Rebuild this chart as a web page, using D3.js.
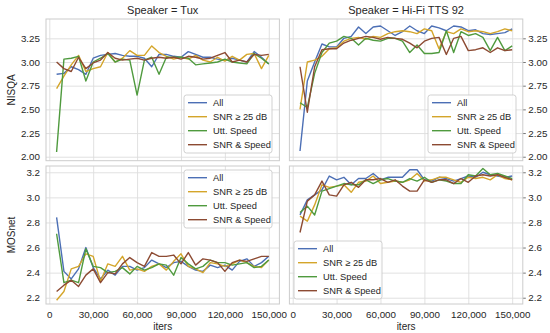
<!DOCTYPE html>
<html>
<head>
<meta charset="utf-8">
<script src="https://cdn.jsdelivr.net/npm/d3@7"></script>
<style>
	body { margin: 0; background: white; }
	text { font-family: "Liberation Sans", Arial, sans-serif; fill: #262626; }
</style>
</head>
<body>
<script>
//training iterations (x values shared by every panel)
let iters = [5000, 10000, 15000, 20000, 25000, 30000, 35000, 40000, 45000, 50000,
	55000, 60000, 65000, 70000, 75000, 80000, 85000, 90000, 95000, 100000,
	105000, 110000, 115000, 120000, 125000, 130000, 135000, 140000, 145000, 150000];

let seriesNames = ["All", "SNR \u2265 25 dB", "Utt. Speed", "SNR & Speed"];
let speakers = ["Tux", "Hi-Fi TTS 92"];
let metrics = ["NISQA", "MOSnet"];

let xTicks = [0, 30000, 60000, 90000, 120000, 150000];
let nisqaTicks = [2.00, 2.25, 2.50, 2.75, 3.00, 3.25];
let mosnetTicks = [2.2, 2.4, 2.6, 2.8, 3.0, 3.2];

//values per series, in the order of seriesNames
let tuxNisqa = [
	[2.87, 2.88, 2.95, 2.92, 2.87, 3.04, 3.07, 3.08, 3.09, 3.07, 3.06, 3.06, 3.04, 2.95, 3.08, 3.08, 3.06, 3.05, 3.11, 3.08, 3.05, 3.05, 3.03, 3.02, 3.04, 3.02, 3.00, 3.11, 3.05, 2.98],
	[2.72, 2.85, 2.97, 3.07, 2.90, 2.93, 2.95, 3.10, 3.00, 3.04, 3.12, 3.07, 3.07, 3.17, 3.10, 3.06, 3.03, 3.05, 3.03, 3.07, 3.02, 3.00, 3.05, 3.01, 3.06, 3.02, 3.08, 3.09, 2.93, 3.07],
	[2.05, 3.03, 3.04, 3.06, 2.80, 3.00, 3.04, 3.09, 3.00, 3.03, 3.02, 2.65, 3.02, 3.05, 2.87, 3.05, 3.05, 3.05, 3.04, 2.97, 2.98, 2.99, 3.00, 3.03, 3.00, 2.99, 2.98, 3.09, 3.04, 2.98],
	[3.00, 2.93, 2.90, 3.05, 2.93, 2.99, 3.02, 3.10, 3.04, 3.02, 3.03, 3.04, 3.02, 3.04, 3.05, 3.04, 3.05, 3.03, 3.06, 3.05, 3.03, 3.04, 3.07, 3.10, 3.00, 3.02, 3.00, 3.08, 3.07, 3.08]
];
let hifiNisqa = [
	[2.06, 2.80, 3.00, 3.19, 3.16, 3.16, 3.25, 3.27, 3.37, 3.30, 3.37, 3.38, 3.33, 3.28, 3.32, 3.38, 3.33, 3.30, 3.38, 3.36, 3.33, 3.38, 3.37, 3.33, 3.34, 3.30, 3.29, 3.30, 3.31, 3.35],
	[2.50, 3.00, 3.02, 3.06, 3.14, 3.15, 3.22, 3.25, 3.26, 3.24, 3.27, 3.26, 3.30, 3.32, 3.33, 3.32, 3.30, 3.35, 3.33, 3.14, 3.32, 3.30, 3.35, 3.32, 3.33, 3.32, 3.30, 3.32, 3.35, 3.33],
	[2.57, 2.52, 2.88, 3.10, 3.20, 3.22, 3.27, 3.25, 3.18, 3.25, 3.23, 3.22, 3.25, 3.25, 3.22, 3.10, 3.18, 3.09, 3.09, 3.10, 3.33, 3.10, 3.32, 3.28, 3.30, 3.26, 3.12, 3.26, 3.12, 3.17],
	[2.95, 2.47, 2.95, 3.13, 3.14, 3.14, 3.20, 3.23, 3.25, 3.27, 3.26, 3.24, 3.26, 3.25, 3.24, 3.20, 3.15, 3.22, 3.25, 3.26, 3.08, 3.25, 3.27, 3.12, 3.13, 3.15, 3.10, 3.15, 3.12, 3.13]
];
let tuxMosnet = [
	[2.84, 2.41, 2.35, 2.43, 2.60, 2.44, 2.35, 2.42, 2.38, 2.45, 2.45, 2.42, 2.44, 2.50, 2.47, 2.44, 2.48, 2.49, 2.45, 2.42, 2.41, 2.46, 2.44, 2.46, 2.42, 2.49, 2.51, 2.45, 2.48, 2.53],
	[2.18, 2.25, 2.43, 2.45, 2.55, 2.53, 2.33, 2.47, 2.45, 2.53, 2.42, 2.43, 2.41, 2.45, 2.47, 2.42, 2.49, 2.55, 2.45, 2.43, 2.40, 2.48, 2.47, 2.45, 2.47, 2.50, 2.48, 2.45, 2.44, 2.50],
	[2.71, 2.32, 2.34, 2.32, 2.59, 2.45, 2.44, 2.40, 2.41, 2.44, 2.39, 2.45, 2.42, 2.44, 2.47, 2.46, 2.38, 2.52, 2.47, 2.43, 2.45, 2.50, 2.48, 2.48, 2.46, 2.47, 2.48, 2.44, 2.45, 2.50],
	[2.25, 2.30, 2.34, 2.29, 2.38, 2.43, 2.32, 2.40, 2.39, 2.47, 2.52, 2.48, 2.45, 2.56, 2.53, 2.53, 2.54, 2.47, 2.56, 2.46, 2.51, 2.50, 2.48, 2.41, 2.48, 2.50, 2.49, 2.51, 2.53, 2.53]
];
let hifiMosnet = [
	[2.86, 2.98, 3.02, 3.06, 3.17, 3.14, 3.16, 3.10, 3.15, 3.15, 3.19, 3.14, 3.16, 3.16, 3.16, 3.22, 3.22, 3.14, 3.13, 3.16, 3.15, 3.13, 3.15, 3.17, 3.16, 3.20, 3.18, 3.17, 3.16, 3.17],
	[2.85, 2.81, 2.94, 3.10, 3.08, 3.09, 3.10, 3.04, 3.12, 3.13, 3.17, 3.11, 3.12, 3.13, 3.12, 3.14, 3.19, 3.13, 3.14, 3.16, 3.16, 3.14, 3.12, 3.16, 3.15, 3.16, 3.14, 3.18, 3.15, 3.14],
	[2.88, 2.93, 2.86, 3.05, 3.07, 3.09, 3.11, 3.10, 3.10, 3.14, 3.11, 3.14, 3.15, 3.13, 3.12, 3.15, 3.13, 3.16, 3.12, 3.14, 3.13, 3.11, 3.11, 3.18, 3.17, 3.23, 3.18, 3.19, 3.17, 3.15],
	[2.72, 2.97, 3.02, 3.13, 3.02, 3.01, 3.10, 3.12, 3.08, 3.14, 3.14, 3.15, 3.12, 3.14, 3.09, 3.05, 3.05, 3.14, 3.12, 3.14, 3.14, 3.11, 3.15, 3.12, 3.17, 3.18, 3.17, 3.18, 3.16, 3.14]
];

let colors = ["#4c6fb5", "#d4a52a", "#4f9a3e", "#8c4a32"];
let gridColor = "#dedede";
let edgeColor = "#cccccc";

let svg = d3.select("body").append("svg")
	.attr("width", 550)
	.attr("height", 333);

//panel boxes (left/right columns, top/bottom rows)
let cols = [{x0: 46, x1: 279.4}, {x0: 289.4, x1: 522.8}];
let rows = [
	{y0: 19, y1: 160.7, domain: [1.958, 3.454], ticks: nisqaTicks, fmt: d3.format(".2f")},
	{y0: 166, y1: 304, domain: [2.15, 3.25], ticks: mosnetTicks, fmt: d3.format(".1f")}
];

let panels = [
	{r: 0, c: 0, data: tuxNisqa, legend: {x: 184, y: 95}},
	{r: 0, c: 1, data: hifiNisqa, legend: {x: 428, y: 95}},
	{r: 1, c: 0, data: tuxMosnet, legend: {x: 184, y: 170}},
	{r: 1, c: 1, data: hifiMosnet, legend: {x: 294, y: 241}}
];

panels.forEach(p => {
	let col = cols[p.c], row = rows[p.r];
	let w = col.x1 - col.x0, h = row.y1 - row.y0;

	let x = d3.scaleLinear().domain([-2250, 157250]).range([0, w]);
	let y = d3.scaleLinear().domain(row.domain).range([h, 0]);

	let g = svg.append("g").attr("transform", `translate(${col.x0}, ${row.y0})`);

	//grid lines
	let xG = g.append("g")
		.attr("transform", `translate(0, ${h})`)
		.call(d3.axisBottom(x).tickValues(xTicks).tickSize(-h).tickPadding(7)
			.tickFormat(p.r == 1 ? d3.format(",") : ""));
	let yG = g.append("g")
		.call(d3.axisLeft(y).tickValues(row.ticks).tickSize(-w).tickPadding(6)
			.tickFormat(p.c == 0 ? row.fmt : ""));
	[xG, yG].forEach(a => {
		a.select(".domain").remove();
		a.selectAll("line").attr("stroke", gridColor).attr("stroke-width", 0.9);
		a.selectAll("text").attr("font-size", 9.8).attr("fill", "#262626")
			.style("font-family", "'Liberation Sans', Arial, sans-serif");
	});

	//right-hand tick labels for the second column
	if (p.c == 1) {
		let rG = g.append("g")
			.attr("transform", `translate(${w}, 0)`)
			.call(d3.axisRight(y).tickValues(row.ticks).tickSize(3).tickPadding(2.5).tickFormat(row.fmt));
		rG.select(".domain").remove();
		rG.selectAll("line").attr("stroke", "#555").attr("stroke-width", 0.8);
		rG.selectAll("text").attr("font-size", 9.8).attr("fill", "#262626")
			.style("font-family", "'Liberation Sans', Arial, sans-serif");
	}

	//frame
	g.append("rect")
		.attr("width", w).attr("height", h)
		.attr("fill", "none").attr("stroke", edgeColor).attr("stroke-width", 1);

	//lines
	let line = d3.line()
		.x((d, i) => x(iters[i]))
		.y(d => y(d));

	p.data.forEach((s, k) => {
		g.append("path")
			.datum(s)
			.attr("fill", "none")
			.attr("stroke", colors[k])
			.attr("stroke-width", 1.4)
			.attr("stroke-linejoin", "round")
			.attr("d", line);
	});

	//legend
	let lg = svg.append("g").attr("transform", `translate(${p.legend.x}, ${p.legend.y})`);
	lg.append("rect")
		.attr("width", 88).attr("height", 58).attr("rx", 2.5)
		.attr("fill", "white").attr("fill-opacity", 0.85)
		.attr("stroke", edgeColor).attr("stroke-width", 0.9);
	seriesNames.forEach((n, k) => {
		let yy = 7.7 + k * 14;
		lg.append("line")
			.attr("x1", 4).attr("x2", 23).attr("y1", yy).attr("y2", yy)
			.attr("stroke", colors[k]).attr("stroke-width", 1.4);
		lg.append("text")
			.attr("x", 29).attr("y", yy + 3.3)
			.attr("font-size", 9.3)
			.text(n);
	});
});

//column titles
speakers.forEach((s, i) => {
	svg.append("text")
		.attr("x", (cols[i].x0 + cols[i].x1) / 2)
		.attr("y", 14)
		.attr("text-anchor", "middle")
		.attr("font-size", 11)
		.text("Speaker = " + s);

	svg.append("text")
		.attr("x", (cols[i].x0 + cols[i].x1) / 2)
		.attr("y", 330)
		.attr("text-anchor", "middle")
		.attr("font-size", 10)
		.text("iters");
});

//row labels
metrics.forEach((m, i) => {
	let cy = (rows[i].y0 + rows[i].y1) / 2;
	svg.append("text")
		.attr("transform", `translate(14.5, ${cy}) rotate(-90)`)
		.attr("text-anchor", "middle")
		.attr("font-size", 10)
		.text(m);
});
</script>
</body>
</html>
